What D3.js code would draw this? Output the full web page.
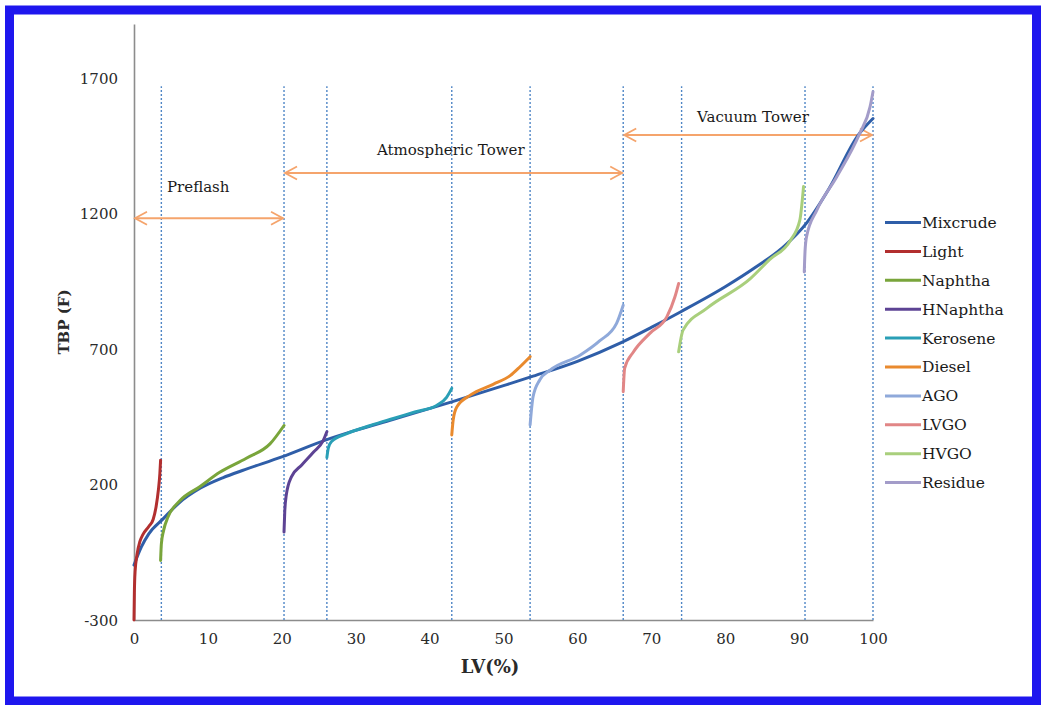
<!DOCTYPE html>
<html>
<head>
<meta charset="utf-8">
<script src="https://cdn.jsdelivr.net/npm/d3@7"></script>
<style>
  html, body { margin: 0; padding: 0; background: #fff; }
  svg { display: block; font-family: "DejaVu Serif", serif; }
</style>
</head>
<body>
<svg id="chart" width="1044" height="705"></svg>
<script>
// series names, in legend/draw order
const seriesNames = ["Mixcrude", "Light", "Naphtha", "HNaphtha", "Kerosene",
  "Diesel", "AGO", "LVGO", "HVGO", "Residue"];
const seriesColors = ["#2f5ea8", "#b22f2f", "#79a53b", "#5d4394", "#2a9fb6",
  "#e98a2e", "#8fa9da", "#e18686", "#a9cf7c", "#a39cc9"];

// LV(%) and TBP(F)
const mixcrudeLV  = [0, 1, 2, 4, 6, 9, 12, 15, 20, 26, 30, 35, 43, 50, 54, 60, 66, 70, 74, 80, 84, 88, 91, 94, 98, 100];
const mixcrudeTBP = [-97, -30, 18, 75, 130, 187, 225, 255, 302, 365, 400, 440, 505, 565, 600, 655, 725, 780, 838, 930, 1000, 1080, 1165, 1290, 1490, 1551];

const lightLV  = [0, 0.05, 0.15, 0.4, 0.8, 1.2, 2.0, 2.6, 3.0, 3.3, 3.5, 3.6];
const lightTBP = [-300, -200, -120, -60, -10, 15, 45, 72, 120, 180, 240, 290];

const naphthaLV  = [3.6, 3.7, 4.0, 4.6, 6.2, 8.9, 11.6, 15.2, 18.4, 20.3];
const naphthaTBP = [-80, -20, 30, 80, 140, 192, 245, 297, 350, 418];

const hnaphthaLV  = [20.3, 20.4, 20.6, 21.3, 22.7, 24.3, 25.6, 26.1];
const hnaphthaTBP = [25, 100, 160, 228, 272, 320, 362, 395];

const keroseneLV  = [26.1, 26.3, 26.7, 28.8, 32, 35.1, 38, 41, 42.3, 43];
const keroseneTBP = [300, 335, 358, 388, 418, 444, 468, 493, 522, 555];

const dieselLV  = [43, 43.2, 43.7, 45.5, 48.6, 50.9, 52.2, 53.6];
const dieselTBP = [383, 440, 487, 530, 570, 602, 634, 672];

const agoLV  = [53.6, 53.8, 54, 54.9, 56.3, 60.4, 63, 65.3, 66.2];
const agoTBP = [420, 480, 524, 586, 622, 678, 730, 795, 862];

const lvgoLV  = [66.2, 66.4, 67.6, 69.8, 72.1, 73.2, 73.7];
const lvgoTBP = [543, 630, 690, 758, 819, 893, 942];

const hvgoLV  = [73.7, 74.3, 77.5, 83.4, 86, 88.8, 90.1, 90.6];
const hvgoTBP = [690, 770, 850, 960, 1030, 1100, 1176, 1300];

const residueLV  = [90.7, 90.8, 91, 92.4, 95.1, 98.2, 99.6, 100];
const residueTBP = [985, 1060, 1114, 1213, 1336, 1496, 1594, 1650];

const seriesLV  = [mixcrudeLV, lightLV, naphthaLV, hnaphthaLV, keroseneLV, dieselLV, agoLV, lvgoLV, hvgoLV, residueLV];
const seriesTBP = [mixcrudeTBP, lightTBP, naphthaTBP, hnaphthaTBP, keroseneTBP, dieselTBP, agoTBP, lvgoTBP, hvgoTBP, residueTBP];

// cut points (dotted lines) and tower ranges
const cutPoints = [3.7, 20.3, 26.1, 43.0, 53.6, 66.2, 74.1, 90.8, 100];
const cutTop = 1670;
const towerNames = ["Preflash", "Atmospheric Tower", "Vacuum Tower"];
const towerFrom  = [0, 20.3, 66.2];
const towerTo    = [20.3, 66.2, 100];
const towerTBP   = [1183, 1350, 1490];

const xTicks = [0, 10, 20, 30, 40, 50, 60, 70, 80, 90, 100];
const yTicks = [-300, 200, 700, 1200, 1700];

const svg = d3.select("#chart");

// blue frame
svg.append("rect")
  .attr("x", 9.5).attr("y", 10)
  .attr("width", 1027).attr("height", 691)
  .attr("fill", "#fff")
  .attr("stroke", "#1e16ee")
  .attr("stroke-width", 9);

const x = d3.scaleLinear().domain([0, 100]).range([134, 873]);
const y = d3.scaleLinear().domain([-300, 1900]).range([620, 24]);

// axes
const plain = d => String(d).replace("\u2212", "-");
const xAxis = svg.append("g")
  .attr("transform", `translate(0,${y(-300)})`)
  .call(d3.axisBottom(x).tickValues(xTicks).tickFormat(plain).tickSize(0).tickPadding(10));
const yAxis = svg.append("g")
  .attr("transform", `translate(${x(0)},0)`)
  .call(d3.axisLeft(y).tickValues(yTicks).tickFormat(plain).tickSize(0).tickPadding(16));
[xAxis, yAxis].forEach(function (g) {
  g.select(".domain").attr("stroke", "#8c8c8c").attr("stroke-width", 1.6);
  g.selectAll(".tick text").attr("font-family", "DejaVu Serif").attr("font-size", 15).attr("fill", "#2a2a2a");
});
xAxis.selectAll(".tick text").attr("dy", "0.9em");
yAxis.selectAll(".tick text").attr("dy", "0.35em");

// axis titles
svg.append("text")
  .attr("x", 490).attr("y", 673)
  .attr("text-anchor", "middle")
  .attr("font-size", 18).attr("font-weight", "bold").attr("fill", "#2a2a2a")
  .text("LV(%)");
svg.append("text")
  .attr("transform", "translate(69,322) rotate(-90)")
  .attr("text-anchor", "middle")
  .attr("font-size", 15).attr("font-weight", "bold").attr("fill", "#2a2a2a")
  .text("TBP (F)");

// dotted cut lines
svg.append("g").selectAll("line")
  .data(cutPoints)
  .enter().append("line")
  .attr("x1", d => x(d)).attr("x2", d => x(d))
  .attr("y1", y(-300)).attr("y2", y(cutTop))
  .attr("stroke", "#4f86c6")
  .attr("stroke-width", 1.4)
  .attr("stroke-dasharray", "2,2");

// arrow markers (open heads)
const defs = svg.append("defs");
["start", "end"].forEach(function (k) {
  defs.append("marker")
    .attr("id", "arrow-" + k)
    .attr("viewBox", "-14 -8 16 16")
    .attr("refX", 0).attr("refY", 0)
    .attr("markerWidth", 16).attr("markerHeight", 16)
    .attr("markerUnits", "userSpaceOnUse")
    .attr("orient", k === "end" ? "auto" : "auto-start-reverse")
    .append("path")
    .attr("d", "M-12,-6.5 L0,0 L-12,6.5")
    .attr("fill", "none")
    .attr("stroke", "#f5a46c")
    .attr("stroke-width", 1.8);
});

const towers = towerNames.map((n, i) => ({ name: n, from: towerFrom[i], to: towerTo[i], tbp: towerTBP[i] }));
svg.append("g").selectAll("line")
  .data(towers)
  .enter().append("line")
  .attr("x1", d => x(d.from) + 1).attr("x2", d => x(d.to) - 1)
  .attr("y1", d => y(d.tbp)).attr("y2", d => y(d.tbp))
  .attr("stroke", "#f5a46c")
  .attr("stroke-width", 2)
  .attr("marker-start", "url(#arrow-start)")
  .attr("marker-end", "url(#arrow-end)");

// tower labels
const towerLabelX = [167, 377, 697];
const towerLabelY = [192, 155, 122];
svg.append("g").selectAll("text")
  .data(towers)
  .enter().append("text")
  .attr("x", (d, i) => towerLabelX[i])
  .attr("y", (d, i) => towerLabelY[i])
  .attr("font-size", 15).attr("fill", "#1a1a1a")
  .text(d => d.name);

// series lines
const line = d3.line()
  .x(d => x(d[0]))
  .y(d => y(d[1]))
  .curve(d3.curveMonotoneX);

const series = seriesNames.map((name, i) => ({
  name: name,
  color: seriesColors[i],
  points: seriesLV[i].map((v, j) => [v, seriesTBP[i][j]])
}));

svg.append("g").selectAll("path")
  .data(series)
  .enter().append("path")
  .attr("d", d => line(d.points))
  .attr("fill", "none")
  .attr("stroke", d => d.color)
  .attr("stroke-width", 3)
  .attr("stroke-linejoin", "round")
  .attr("stroke-linecap", "round");

// legend
const legend = svg.append("g").attr("transform", "translate(885,222.5)");
const rows = legend.selectAll("g")
  .data(series)
  .enter().append("g")
  .attr("transform", (d, i) => `translate(0,${i * 28.9})`);
rows.append("line")
  .attr("x1", 0).attr("x2", 36)
  .attr("stroke", d => d.color)
  .attr("stroke-width", 3);
rows.append("text")
  .attr("x", 37).attr("dy", "0.35em")
  .attr("font-size", 15.5).attr("fill", "#1a1a1a")
  .text(d => d.name);
</script>
</body>
</html>
